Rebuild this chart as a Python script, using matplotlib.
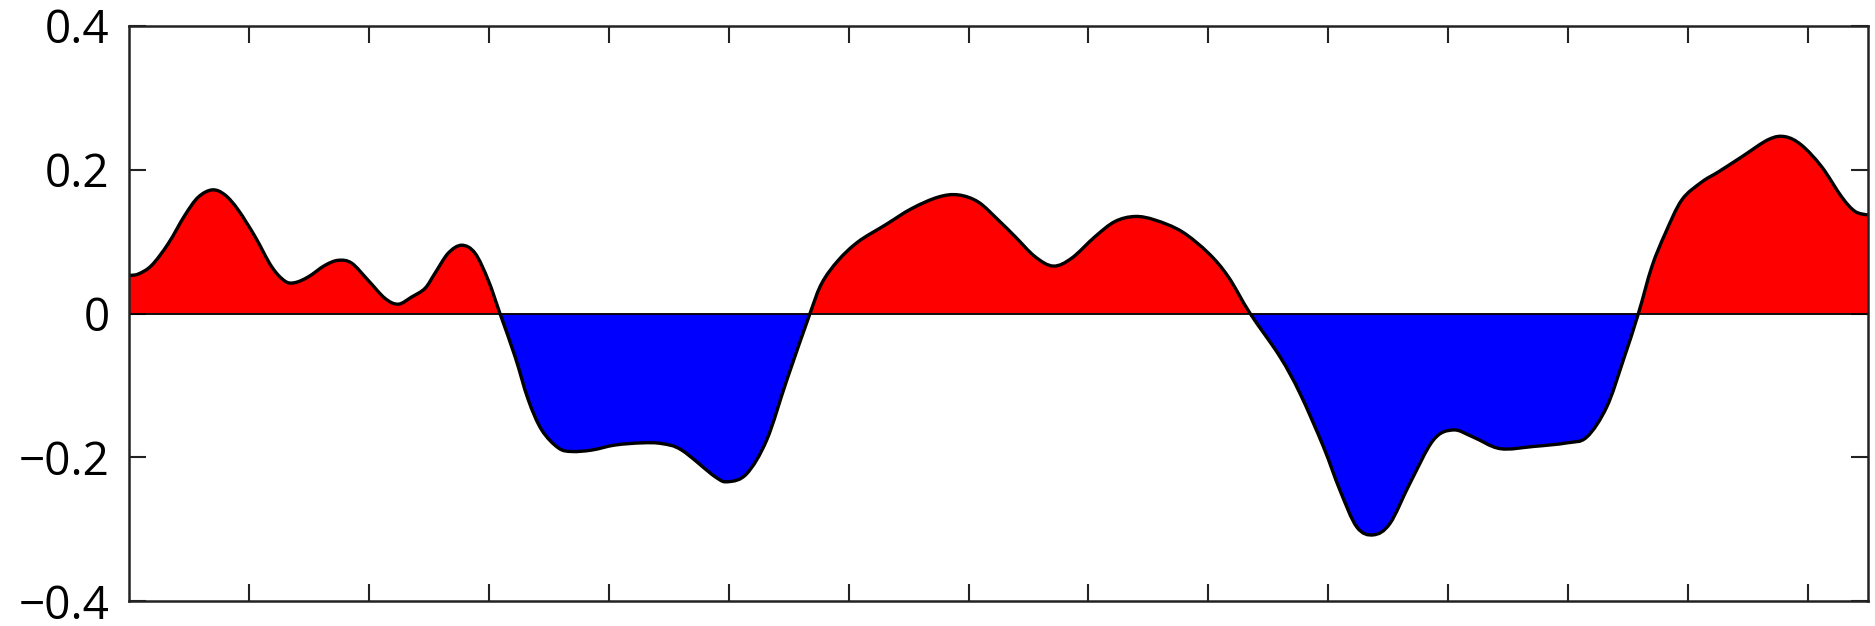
import matplotlib
matplotlib.use("Agg")
import matplotlib.pyplot as plt
from matplotlib.path import Path
from matplotlib.patches import PathPatch, Rectangle
import numpy as np

# Curve (x in tick units, y in value units)
x_vals = [0.0, 0.078, 0.189, 0.328, 0.467, 0.578, 0.695, 0.800, 0.911, 1.051,
          1.190, 1.301, 1.384, 1.495, 1.634, 1.745, 1.857, 1.995, 2.135, 2.245,
          2.357, 2.468, 2.551, 2.662, 2.774, 2.885, 2.996, 3.093, 3.219, 3.329,
          3.441, 3.580, 3.691, 3.858, 4.052, 4.275, 4.442, 4.608, 4.886, 4.997,
          5.150, 5.317, 5.484, 5.678, 5.776, 5.914, 6.081, 6.304, 6.526, 6.748,
          6.915, 7.082, 7.248, 7.388, 7.555, 7.707, 7.860, 8.055, 8.221, 8.388,
          8.555, 8.778, 9.000, 9.166, 9.348, 9.596, 9.763, 9.958, 10.097, 10.237,
          10.375, 10.514, 10.681, 10.876, 11.042, 11.209, 11.432, 11.709, 11.988, 12.154,
          12.321, 12.459, 12.585, 12.697, 12.808, 12.947, 13.114, 13.252, 13.447, 13.669,
          13.808, 13.947, 14.114, 14.281, 14.392, 14.5]
y_vals = [0.053, 0.055, 0.067, 0.0975, 0.137, 0.162, 0.172, 0.165, 0.144, 0.107,
          0.065, 0.045, 0.043, 0.051, 0.067, 0.074, 0.070, 0.046, 0.021, 0.013,
          0.023, 0.035, 0.056, 0.084, 0.095, 0.084, 0.046, 0.0, -0.060, -0.120,
          -0.162, -0.187, -0.192, -0.190, -0.183, -0.180, -0.181, -0.190, -0.227, -0.234,
          -0.223, -0.176, -0.093, 0.0, 0.042, 0.074, 0.100, 0.123, 0.146, 0.162,
          0.165, 0.155, 0.130, 0.107, 0.079, 0.066, 0.077, 0.107, 0.128, 0.135,
          0.130, 0.114, 0.084, 0.051, 0.0, -0.060, -0.111, -0.185, -0.246, -0.297,
          -0.308, -0.292, -0.236, -0.176, -0.162, -0.172, -0.188, -0.185, -0.180, -0.172,
          -0.130, -0.065, 0.0, 0.065, 0.111, 0.158, 0.183, 0.197, 0.218, 0.242,
          0.246, 0.234, 0.204, 0.162, 0.142, 0.137]

y_ticks = [-0.4, -0.2, 0, 0.2, 0.4]
y_tick_labels = ["\u22120.4", "\u22120.2", "0", "0.2", "0.4"]
x_ticks = list(range(1, 15))

plt.rcParams['font.family'] = ['Open Sans', 'DejaVu Sans']

fig = plt.figure(figsize=(18.75, 6.26), dpi=100)
ax = fig.add_axes([0.0688, 0.0399, 0.9275, 0.9186])
ax.set_xlim(0, 14.5)
ax.set_ylim(-0.4, 0.4)

# Smooth Bezier path through the read points (Catmull-Rom control points)
P = np.column_stack([x_vals, y_vals])
ext = np.vstack([P[0], P, P[-1]])
verts = [tuple(P[0])]
codes = [Path.MOVETO]
for i in range(1, len(ext) - 2):
    p0, p1, p2, p3 = ext[i - 1], ext[i], ext[i + 1], ext[i + 2]
    c1 = p1 + (p2 - p0) / 6.0
    c2 = p2 - (p3 - p1) / 6.0
    verts += [tuple(c1), tuple(c2), tuple(p2)]
    codes += [Path.CURVE4] * 3
curve = Path(verts, codes)

fill_verts = verts + [(x_vals[-1], 0.0), (x_vals[0], 0.0), verts[0]]
fill_codes = codes + [Path.LINETO, Path.LINETO, Path.CLOSEPOLY]
fill_path = Path(fill_verts, fill_codes)

upper = Rectangle((0, 0), 14.5, 0.4, transform=ax.transData)
lower = Rectangle((0, -0.4), 14.5, 0.4, transform=ax.transData)
red = PathPatch(fill_path, facecolor='#ff0000', edgecolor='none', zorder=2)
blue = PathPatch(fill_path, facecolor='#0000ff', edgecolor='none', zorder=2)
ax.add_patch(red)
ax.add_patch(blue)
red.set_clip_path(upper)
blue.set_clip_path(lower)

ax.axhline(0, color='black', lw=1.3, zorder=3)
ax.add_patch(PathPatch(curve, facecolor='none', edgecolor='black', lw=2.4,
                       joinstyle='round', capstyle='round', zorder=4))

ax.set_xticks(x_ticks)
ax.set_xticklabels([])
ax.set_yticks(y_ticks)
ax.set_yticklabels(y_tick_labels, fontsize=33)
ax.tick_params(axis='both', direction='in', length=12, width=1.5,
               top=True, right=True, color='#222222')
ax.tick_params(axis='y', pad=14)
for s in ax.spines.values():
    s.set_linewidth(1.8)
    s.set_color('#222222')
    s.set_zorder(5)

fig.savefig('out.png', dpi=100)
